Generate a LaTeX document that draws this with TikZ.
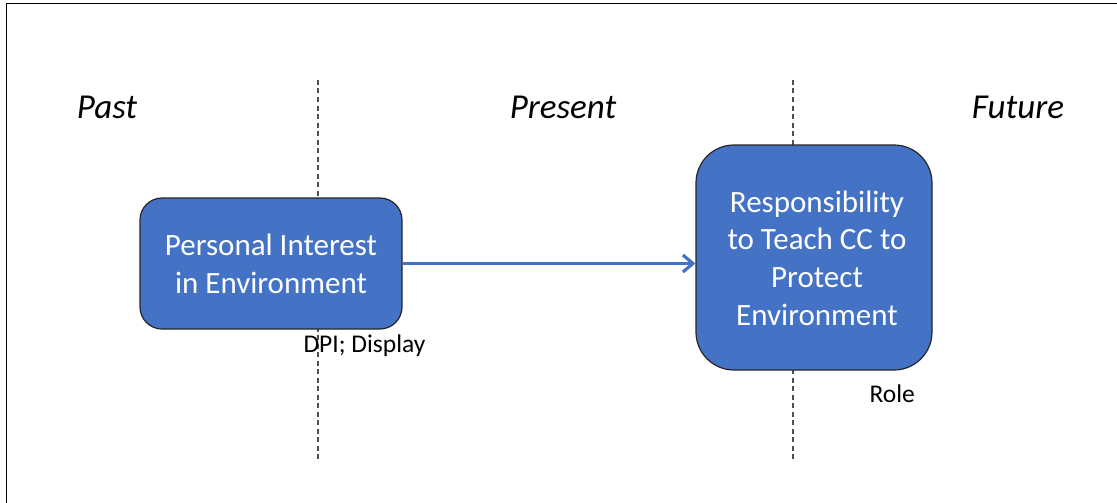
\documentclass[tikz,border=0pt]{standalone}
\usepackage{fontspec}
\setmainfont{Carlito}
\usetikzlibrary{arrows.meta}
\definecolor{boxblue}{HTML}{4472C4}
\definecolor{divgray}{HTML}{505050}
\begin{document}
\begin{tikzpicture}[x=1pt,y=-1pt,
  era/.style={font=\fontsize{35}{41}\selectfont\itshape, anchor=base},
  stagebox/.style={draw=black!85, line width=1.2pt, fill=boxblue, text=white,
    align=center, font=\fontsize{31}{37.7}\selectfont, inner sep=0pt},
  note/.style={font=\fontsize{25.5}{30}\selectfont, anchor=base west},
  divider/.style={draw=divgray, line width=1.4pt, dash pattern=on 5pt off 3.5pt},
  flow/.style={draw=boxblue, line width=3.2pt, -{Straight Barb[length=10pt,width=17pt,line width=3.2pt]}}
]
\useasboundingbox (0,0) rectangle (1117,503);
\fill[white] (0,0) rectangle (1117,503);
% frame
\draw[line width=1.6pt, black] (6.5,503) -- (6.5,3.5) -- (1117,3.5);
% dividers
\coordinate (d1t) at (318,80); \coordinate (d1b) at (318,461);
\coordinate (d2t) at (793,80); \coordinate (d2b) at (793,461);
\draw[divider] (d1t) -- (d1b);
\draw[divider] (d2t) -- (d2b);
% era labels
\node[era] (past) at (107,118) {Past};
\node[era] (present) at (563,118) {Present};
\node[era] (future) at (1018,118) {Future};
% boxes
\node[stagebox, rounded corners=22pt, minimum width=262pt, minimum height=131pt] (pie) at (271,263.5)
  {Personal Interest\\in Environment};
\node[stagebox, rounded corners=38pt, minimum width=236pt, minimum height=225pt] (resp) at (814,257.5) {};
\node[text=white, align=center, font=\fontsize{31}{37.7}\selectfont, inner sep=0pt] (resptext) at (817,258)
  {Responsibility\\to Teach CC to\\Protect\\Environment};
% notes
\node[note] (dpi) at (300,352) {DPI; Display};
\node[note] (role) at (866,402) {Role};
% connector
\draw[flow] (pie.east) -- (resp.west |- pie.east);
\end{tikzpicture}
\end{document}
